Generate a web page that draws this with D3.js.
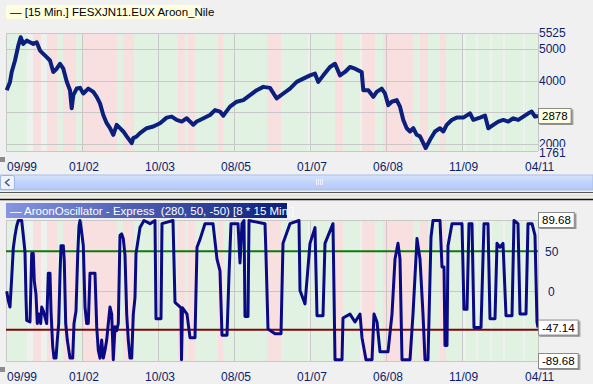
<!DOCTYPE html>
<html>
<head>
<meta charset="utf-8">
<script src="https://cdn.jsdelivr.net/npm/d3@7/dist/d3.min.js"></script>
<style>
  body { margin: 0; background: #f0f0f0; }
  svg { display: block; font-family: Tahoma, "Liberation Sans", Arial, sans-serif; }
</style>
</head>
<body>
<div id="chart"></div>
<script>
// time axis: bar index (one tick every 76 index units)
const tickLabels = ["09/99", "01/02", "10/03", "08/05", "01/07", "06/08", "11/09", "04/11"];
const tickIdx = [0, 76, 152, 228, 304, 380, 456, 532];

// FESX price, sampled along the bar index
const priceIdx = [0.7, 4, 5.7, 9, 12.3, 14.7, 17.3, 20.7, 24, 27.3, 30.7, 34, 37.3, 40.7, 44, 47.3, 50.7, 54, 57.3, 60.7,
  64, 65.7, 67.3, 70.7, 74, 77.3, 82.3, 87.3, 90.7, 94, 97.3, 100.7, 104, 107.3, 110.7, 114, 117.3, 120.7, 125.7, 127.3,
  130.7, 134, 140.7, 147.3, 154, 160.7, 165.7, 170.7, 175.7, 180.7, 184, 187.3, 190.7, 194, 204, 209, 214, 217.3, 224, 230.7,
  237.3, 244, 250.7, 257.3, 264, 270.7, 277.3, 284, 290.7, 297.3, 304, 309, 312.3, 317.3, 324, 329, 334, 339, 344, 349,
  352.3, 355.7, 357.3, 362.3, 367.3, 370.7, 375.7, 379, 382.3, 385.7, 390.7, 394, 397.3, 400.7, 404, 407.3, 410.7, 414, 417.3, 419.7,
  424, 429, 434, 437.3, 440.7, 445.7, 450.7, 457.3, 464, 467.3, 474, 479, 482.3, 487.3, 492.3, 497.3, 502.3, 507.3, 512.3, 517.3,
  522.3, 525.7, 529, 532];
const priceVal = [3700, 3965, 4282, 4648, 5123, 5388, 5177, 5281, 5230, 5177, 5230, 4965, 4860, 4756, 4648, 4282, 4386, 4544, 4386, 3976,
  3700, 3121, 3541, 3753, 3775, 3595, 3753, 3649, 3491, 3279, 2909, 2647, 2488, 2277, 2593, 2488, 2384, 2226, 2014, 2172,
  2226, 2330, 2488, 2541, 2647, 2826, 2858, 2751, 2700, 2805, 2700, 2600, 2700, 2751, 2909, 3067, 3016, 2890, 3175, 3333,
  3383, 3541, 3700, 3807, 3775, 3437, 3595, 3753, 3965, 4070, 4174, 4228, 3965, 4174, 4440, 4544, 4174, 4282, 4440, 4386,
  4332, 4282, 3700, 3700, 3491, 3649, 3753, 3595, 3225, 3333, 3383, 3175, 2751, 2488, 2384, 2488, 2277, 2226, 2014, 1856,
  2118, 2384, 2488, 2384, 2593, 2751, 2826, 2826, 2963, 2751, 2826, 2890, 2488, 2593, 2700, 2751, 2700, 2805, 2751, 2858,
  2963, 3016, 2858, 2878];
const priceMin = 1761, priceMax = 5525, lastPrice = 2878;
const priceTicks = [5525, 5000, 4000, 3000, 2000, 1761];
const priceLabels = [5525, 5000, 4000, 2000, 1761];

// Aroon oscillator (280, 50, -50)
const oscIdx = [0.7, 2.3, 4, 5.7, 7.3, 9, 10.7, 12.3, 15.7, 17.3, 19, 20, 20.7, 24, 25.7, 27.3, 28.3, 30, 31.3, 33,
  34.7, 35.7, 37.3, 40.7, 42.3, 44, 45, 46.7, 48, 50, 51.3, 52.7, 54, 55, 57.3, 58.3, 59.7, 61.3, 64, 66.7,
  68, 70, 71.7, 73, 74, 75.7, 77.3, 79, 80.7, 82.3, 84, 89, 90.7, 92.3, 94, 95.7, 97.3, 99, 100.7, 102.3,
  104, 105.7, 107.3, 109, 110.7, 112.3, 114, 115.7, 117.3, 119, 120.7, 122.3, 124, 125.7, 127.3, 129, 130, 134, 138, 144,
  149, 150, 155, 156, 167, 169, 175, 175.5, 176.5, 181, 184, 189, 191, 194, 199, 207, 211, 214, 216, 221,
  223, 225, 232, 234, 236, 238, 239, 242, 243, 259, 260, 262, 269, 275, 277, 284, 293, 294, 299, 304,
  309, 311, 317, 319, 327, 329, 336, 337, 344, 349, 354, 356, 360, 366, 368, 371, 374, 380, 382, 386,
  389, 392, 394, 396, 404, 407, 411, 414, 417, 419, 422, 425, 427, 434, 436, 438, 439, 441, 442, 446,
  456, 458, 461, 463, 466, 468, 475, 478, 482, 484, 489, 491, 494, 497, 500, 506, 508, 512, 514, 520,
  522, 526, 529, 531, 532];
const oscVal = [-1, -13, -21, 16, 54, 70, 82, 89, 89, 70, 49, -9, -38, -40, 47, 47, 12, -5, -42, -30,
  -42, -21, -26, -42, 22, 22, -26, -71, -86, -86, -63, -42, 20, 57, 57, 37, -42, -63, -86, -86,
  -42, -26, 45, 82, 89, 74, 57, -21, -42, -42, 22, 22, -46, -76, -86, -63, -86, -76, -63, -42,
  -21, -30, -88, -46, -51, -42, 70, 72, 66, 45, -30, -63, -86, -86, -30, -9, 47, 80, 89, 85,
  89, -36, -36, 85, 89, -15, -22, -88, -22, -30, -60, -60, 55, 65, 85, 85, 40, 25, -57, -57,
  20, 85, 85, 35, 85, 89, -33, -33, 89, 85, 45, -49, -55, -55, 60, 85, 89, 0, -17, 60,
  80, -32, -32, 60, 85, -88, -88, -35, -30, -40, -30, -60, -88, -88, -30, -40, -78, -78, -78, -30,
  40, 60, 40, -88, -88, -30, 66, 40, -30, -88, -88, 68, 89, 89, 30, 30, -70, -70, 57, 85,
  85, -24, -24, 85, 85, -47, -47, 85, 85, -36, -36, 60, 55, 60, -32, -32, 89, 85, -30, -30,
  85, 85, 70, -40, -47.14];
const oscMax = 89.68, oscMin = -89.68, oscLast = -47.14;
const upperLevel = 50, lowerLevel = -50;
const oscPlainTicks = [50, 0];

// trend regime bands behind both panels: [from, to, kind]
const bands = [
  [0, 21, "up"], [21, 27, "flat"], [27, 35, "down"], [35, 41, "flat"], [41, 51, "down"], [51, 57, "up"],
  [57, 70, "down"], [70, 77, "up"], [77, 111, "down"], [111, 117, "up"], [117, 128, "down"], [128, 172, "up"],
  [172, 179, "down"], [179, 182, "up"], [182, 189, "down"], [189, 212, "up"], [212, 217, "down"], [217, 261, "up"],
  [261, 275, "down"], [275, 302, "up"], [302, 305, "flat"], [305, 329, "up"], [329, 337, "down"], [337, 354, "up"],
  [354, 356, "flat"], [356, 369, "down"], [369, 377, "up"], [377, 407, "down"], [407, 414, "up"], [414, 422, "down"],
  [422, 434, "up"], [434, 440, "down"], [440, 457, "up"], [457, 460, "flat"], [460, 470, "up"], [470, 472, "flat"],
  [472, 484, "up"], [484, 486, "flat"], [486, 497, "up"], [497, 499, "flat"], [499, 517, "up"], [517, 519, "flat"],
  [519, 532, "up"]
];
const bandColor = { up: "#e2f2e2", down: "#f8e0e0", flat: "#eef2ee" };

const W = 593, H = 384;
const left = 6, right = 538;
const navy = "#0a1f6b";

const svg = d3.select("#chart").append("svg")
  .attr("width", W).attr("height", H)
  .style("background", "#f0f0f0");

const x = d3.scaleLinear().domain([0, 532]).range([left, right]);

const defs = svg.append("defs");
const grad = defs.append("linearGradient").attr("id", "titleGrad");
grad.append("stop").attr("offset", "0%").attr("stop-color", "#8595e2");
grad.append("stop").attr("offset", "100%").attr("stop-color", "#0b1d78");
const sgrad = defs.append("linearGradient").attr("id", "scrollGrad")
  .attr("x1", 0).attr("x2", 0).attr("y1", 0).attr("y2", 1);
sgrad.append("stop").attr("offset", "0%").attr("stop-color", "#d8e4fd");
sgrad.append("stop").attr("offset", "50%").attr("stop-color", "#c0d3fb");
sgrad.append("stop").attr("offset", "100%").attr("stop-color", "#b4c9f6");
const shadow = defs.append("filter").attr("id", "shadow");
shadow.append("feDropShadow").attr("dx", 1.5).attr("dy", 1.5).attr("stdDeviation", 0.6)
  .attr("flood-color", "#777").attr("flood-opacity", 0.8);

function drawPanel(g, y, ticks) {
  const [y1, y0] = y.range();
  g.selectAll(".band").data(bands).join("rect")
    .attr("x", d => x(d[0])).attr("width", d => x(d[1]) - x(d[0]))
    .attr("y", y0).attr("height", y1 - y0)
    .attr("fill", d => bandColor[d[2]]);
  g.selectAll(".vgrid").data(tickIdx).join("line")
    .attr("x1", d => x(d) + 0.5).attr("x2", d => x(d) + 0.5)
    .attr("y1", y0).attr("y2", y1)
    .attr("stroke", "#c8c8c8").attr("stroke-width", 1);
  g.selectAll(".hgrid").data(ticks).join("line")
    .attr("x1", left).attr("x2", right)
    .attr("y1", d => Math.round(y(d)) + 0.5).attr("y2", d => Math.round(y(d)) + 0.5)
    .attr("stroke", "#c8c8c8").attr("stroke-width", 1);
}

function labelBox(g, xPos, yPos, text, fill) {
  const b = g.append("g").attr("transform", `translate(${xPos},${yPos})`);
  const t = b.append("text").attr("x", 4).attr("y", 4).attr("font-size", 11.5)
    .attr("fill", "#000").text(text);
  const w = t.node().getComputedTextLength() + 7;
  b.insert("rect", "text").attr("x", 0.5).attr("y", -7.5).attr("width", w).attr("height", 15)
    .attr("fill", fill).attr("stroke", "#8a8a8a").attr("filter", "url(#shadow)");
}

function timeAxis(yPos) {
  svg.append("g").selectAll("text").data(tickIdx).join("text")
    .attr("x", (d, i) => i === 0 ? x(d) + 1 : x(d) - 13)
    .attr("y", yPos)
    .attr("font-size", 12).attr("fill", navy)
    .text((d, i) => tickLabels[i]);
  svg.append("rect").attr("x", 0).attr("y", yPos - 14).attr("width", 5).attr("height", 5)
    .attr("fill", "#8c8c8c");
}

// ---------- price panel ----------
const yP = d3.scaleLinear().domain([priceMin, priceMax]).range([151, 33]);
const gP = svg.append("g");
drawPanel(gP, yP, priceTicks);

gP.append("path")
  .datum(priceIdx.map((d, i) => [d, priceVal[i]]))
  .attr("d", d3.line().x(d => x(d[0])).y(d => yP(d[1])))
  .attr("fill", "none").attr("stroke", "#0b1f7d").attr("stroke-width", 4)
  .attr("stroke-linejoin", "round");

gP.append("rect").attr("x", 0).attr("y", 0).attr("width", W).attr("height", 32).attr("fill", "#f0f0f0");
gP.append("rect").attr("x", 6).attr("y", 5).attr("width", 195).attr("height", 14).attr("fill", "#ffffe0");
gP.append("text").attr("x", 10).attr("y", 16).attr("font-size", 11.5).attr("fill", "#000")
  .text("\u2014 [15 Min.] FESXJN11.EUX Aroon_Nile");

// axis labels; the lowest one sits on its own patch and hides part of its neighbour
const plab = gP.selectAll(".plab").data(priceLabels).join("g")
  .attr("transform", d => `translate(${right + 1},${yP(d)})`);
plab.filter(d => d === priceMin).append("rect")
  .attr("x", 0).attr("y", -4).attr("width", 30).attr("height", 12).attr("fill", "#f0f0f0");
plab.append("text").attr("y", d => d === priceMin ? 6 : 4)
  .attr("font-size", 12).attr("fill", navy)
  .text(d => d);
labelBox(gP, right, yP(lastPrice), lastPrice, "#ffffe1");

timeAxis(171);

// ---------- scrollbar ----------
svg.append("rect").attr("x", 0).attr("y", 175).attr("width", W).attr("height", 15)
  .attr("fill", "url(#scrollGrad)").attr("stroke", "#a9bde8");
svg.append("rect").attr("x", 0.5).attr("y", 175.5).attr("width", 14).attr("height", 14)
  .attr("fill", "#eef3fe").attr("stroke", "#9fb3e0").attr("rx", 2);
svg.append("path").attr("d", "M9.5,179 L5.5,182.5 L9.5,186").attr("fill", "none")
  .attr("stroke", "#4d6185").attr("stroke-width", 1.6);
svg.append("g").selectAll("line").data(d3.range(4)).join("line")
  .attr("x1", d => 316.5 + d * 2).attr("x2", d => 316.5 + d * 2)
  .attr("y1", 179).attr("y2", 185).attr("stroke", "#eef3ff");
svg.append("line").attr("x1", 0).attr("x2", W).attr("y1", 192.5).attr("y2", 192.5).attr("stroke", "#555");
svg.append("line").attr("x1", 0).attr("x2", W).attr("y1", 195.5).attr("y2", 195.5).attr("stroke", "#e8e2cc").attr("stroke-width", 2);
svg.append("line").attr("x1", 0).attr("x2", W).attr("y1", 199.5).attr("y2", 199.5).attr("stroke", "#111").attr("stroke-width", 1.5);

// ---------- oscillator panel ----------
const yO = d3.scaleLinear().domain([oscMin, oscMax]).range([361, 220]);
const gO = svg.append("g");
drawPanel(gO, yO, [oscMax, 0, oscMin]);

gO.append("line").attr("x1", left).attr("x2", right)
  .attr("y1", yO(upperLevel)).attr("y2", yO(upperLevel))
  .attr("stroke", "#0d7a0d").attr("stroke-width", 2);
gO.append("line").attr("x1", left).attr("x2", right)
  .attr("y1", yO(lowerLevel)).attr("y2", yO(lowerLevel))
  .attr("stroke", "#7a0a0a").attr("stroke-width", 2);

gO.append("path")
  .datum(oscIdx.map((d, i) => [d, oscVal[i]]))
  .attr("d", d3.line().x(d => x(d[0])).y(d => yO(d[1])))
  .attr("fill", "none").attr("stroke", "#0a0a85").attr("stroke-width", 3)
  .attr("stroke-linejoin", "round");

gO.append("rect").attr("x", 6).attr("y", 203).attr("width", 281).attr("height", 15).attr("fill", "url(#titleGrad)");
gO.append("text").attr("x", 10).attr("y", 214.5).attr("font-size", 11.5).attr("fill", "#fff")
  .attr("xml:space", "preserve")
  .text("\u2014 AroonOscillator - Express  (280, 50, -50) [8 * 15 Min.]");

gO.selectAll(".olab").data(oscPlainTicks).join("text")
  .attr("x", d => d === 0 ? right + 10 : right + 7).attr("y", d => yO(d) + 5)
  .attr("font-size", 12).attr("fill", navy)
  .text(d => d);
labelBox(gO, right, yO(oscMax), oscMax.toFixed(2), "#fff");
labelBox(gO, right, yO(oscLast), oscLast.toFixed(2), "#fff");
labelBox(gO, right, yO(oscMin), oscMin.toFixed(2), "#fff");

timeAxis(381);
</script>
</body>
</html>
